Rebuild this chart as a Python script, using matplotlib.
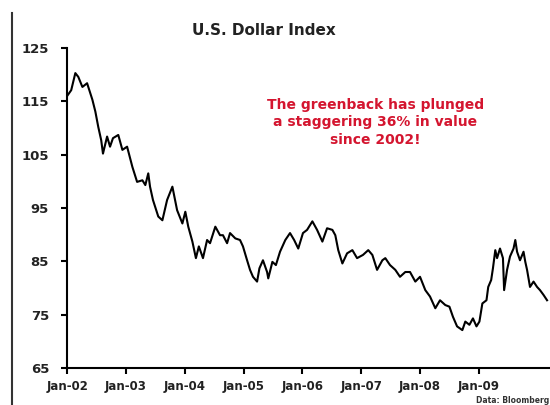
## U.S. Dollar Index chart

import matplotlib
matplotlib.use('Agg')
import matplotlib.pyplot as plt
from matplotlib.lines import Line2D

# decimal year, index value
years = [2002.00, 2002.07, 2002.14, 2002.19, 2002.26, 2002.34, 2002.43, 2002.48, 2002.53,
         2002.58, 2002.61, 2002.68, 2002.73, 2002.78, 2002.87, 2002.94, 2003.02, 2003.11,
         2003.19, 2003.28, 2003.33, 2003.38, 2003.41, 2003.46, 2003.55, 2003.62, 2003.70,
         2003.79, 2003.87, 2003.96, 2004.01, 2004.06, 2004.13, 2004.19, 2004.24, 2004.31,
         2004.38, 2004.43, 2004.52, 2004.60, 2004.65, 2004.72, 2004.77, 2004.86, 2004.94,
         2004.99, 2005.06, 2005.11, 2005.16, 2005.23, 2005.27, 2005.33, 2005.40, 2005.42,
         2005.49, 2005.55, 2005.62, 2005.71, 2005.79, 2005.86, 2005.93, 2006.01, 2006.08,
         2006.17, 2006.25, 2006.34, 2006.42, 2006.51, 2006.56, 2006.61, 2006.68, 2006.76,
         2006.85, 2006.93, 2007.03, 2007.12, 2007.19, 2007.27, 2007.36, 2007.41, 2007.49,
         2007.58, 2007.66, 2007.75, 2007.83, 2007.92, 2008.00, 2008.09, 2008.17, 2008.26,
         2008.34, 2008.43, 2008.50, 2008.56, 2008.63, 2008.72, 2008.77, 2008.84, 2008.90,
         2008.96, 2009.01, 2009.06, 2009.13, 2009.16, 2009.21, 2009.24, 2009.28, 2009.31,
         2009.36, 2009.41, 2009.43, 2009.48, 2009.53, 2009.59, 2009.62, 2009.65, 2009.70,
         2009.76, 2009.79, 2009.82, 2009.87, 2009.93, 2009.99, 2010.04, 2010.10, 2010.16]
dxy = [116.0, 117.1, 120.3, 119.6, 117.7, 118.4, 115.3, 113.1, 110.2,
       107.7, 105.2, 108.4, 106.5, 108.1, 108.7, 105.9, 106.5, 102.7,
       99.9, 100.2, 99.3, 101.5, 99.0, 96.5, 93.4, 92.7, 96.5,
       99.0, 94.6, 92.1, 94.3, 91.5, 88.7, 85.6, 87.8, 85.6,
       89.0, 88.4, 91.5, 89.9, 89.9, 88.4, 90.3, 89.3, 89.0,
       87.8, 85.2, 83.4, 82.1, 81.2, 83.7, 85.2, 83.0, 81.8,
       84.9, 84.3, 86.8, 89.0, 90.3, 89.0, 87.4, 90.3, 90.9,
       92.5, 90.9, 88.7, 91.2, 90.9, 89.9, 87.1, 84.6, 86.5,
       87.1, 85.6, 86.2, 87.1, 86.2, 83.4, 85.2, 85.6, 84.3,
       83.4, 82.1, 83.0, 83.0, 81.2, 82.1, 79.6, 78.4, 76.2,
       77.7, 76.8, 76.5, 74.6, 72.8, 72.1, 73.7, 73.1, 74.3,
       72.8, 73.7, 77.1, 77.7, 80.2, 81.5, 83.7, 87.1, 85.6,
       87.4, 85.6, 79.6, 83.4, 85.9, 87.4, 89.0, 86.8, 85.2,
       86.8, 84.9, 83.4, 80.2, 81.2, 80.2, 79.6, 78.7, 77.7]

tick_years = [2002, 2003, 2004, 2005, 2006, 2007, 2008, 2009]
tick_labels = ['Jan-02', 'Jan-03', 'Jan-04', 'Jan-05', 'Jan-06', 'Jan-07', 'Jan-08', 'Jan-09']
y_ticks = [65, 75, 85, 95, 105, 115, 125]

fig = plt.figure(figsize=(5.5, 4.05), dpi=100)
ax = fig.add_axes([0.122, 0.0914, 0.878, 0.790])

ax.plot(years, dxy, color='black', linewidth=1.5)

ax.set_xlim(2002, 2010.21)
ax.set_ylim(65, 125)
ax.set_yticks(y_ticks)
ax.set_xticks(tick_years)
ax.set_xticklabels(tick_labels)
ax.spines['top'].set_visible(False)
ax.spines['right'].set_visible(False)
ax.spines['left'].set_linewidth(1.5)
ax.spines['bottom'].set_linewidth(1.5)
ax.tick_params(axis='y', direction='out', length=4, width=1.5, pad=9, labelsize=9.5)
ax.tick_params(axis='x', direction='out', length=4, width=1.5, pad=5, labelsize=8.5)
for lab in ax.get_xticklabels() + ax.get_yticklabels():
    lab.set_fontweight('bold')
    lab.set_color('#222222')

fig.text(0.48, 0.925, 'U.S. Dollar Index', ha='center', va='center',
         fontsize=11, fontweight='bold', color='#222222')
fig.text(0.682, 0.698, 'The greenback has plunged\na staggering 36% in value\nsince 2002!',
         ha='center', va='center', fontsize=10, fontweight='bold', color='#d4152f',
         linespacing=1.3)
fig.text(0.998, 0.011, 'Data: Bloomberg', ha='right', va='center', fontsize=5.5,
         fontweight='bold', color='#333333')

# frame line on the left edge
fig.add_artist(Line2D([0.022, 0.022], [0.0, 0.968], color='#333333', linewidth=1.5,
                      transform=fig.transFigure))

plt.savefig('out.png', dpi=100)
